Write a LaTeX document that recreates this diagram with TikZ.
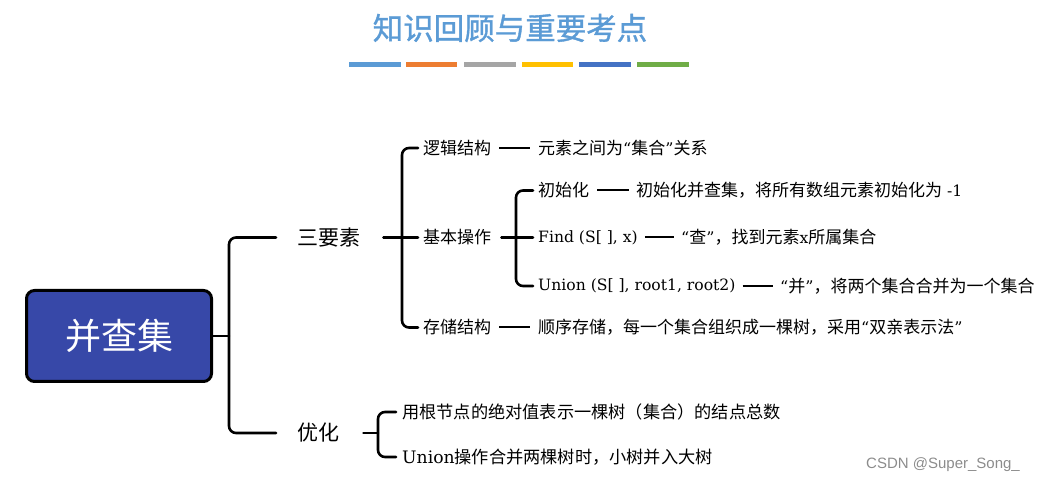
\documentclass[tikz,border=0pt]{standalone}
\usepackage{fontspec}
\setmainfont{DejaVu Serif}
\newfontfamily\cjk{Noto Sans CJK SC}
\newfontfamily\cjktitle[FakeBold=1.2]{Noto Sans CJK SC}
\newfontfamily\latf{DejaVu Serif}
\newfontfamily\wmfont{Liberation Sans}
\newcommand\myoq{{\latf\fontsize{16}{19}\selectfont “}}
\newcommand\mycq{{\latf\fontsize{16}{19}\selectfont ”}}
\newcommand\mylat[1]{{\latf\fontsize{15.6}{19}\selectfont #1}}
\definecolor{titleblue}{HTML}{5B9BD5}
\definecolor{rootblue}{RGB}{55,72,168}
\definecolor{barA}{HTML}{5B9BD5}
\definecolor{barB}{HTML}{ED7D31}
\definecolor{barC}{HTML}{A5A5A5}
\definecolor{barD}{HTML}{FFC000}
\definecolor{barE}{HTML}{4472C4}
\definecolor{barF}{HTML}{70AD47}
\definecolor{wmgray}{HTML}{8C8C8C}
\begin{document}
\begin{tikzpicture}[x=1pt,y=-1pt,
  br/.style={line width=2.6pt, rounded corners=7pt, line cap=round},
  link/.style={line width=2pt},
  lbl/.style={anchor=west, inner sep=0pt, font=\cjk\fontsize{17}{20}\selectfont},
  lat/.style={anchor=west, inner sep=0pt, font=\latf\fontsize{15.6}{19}\selectfont},
  big/.style={anchor=west, inner sep=0pt, font=\cjk\fontsize{21}{25}\selectfont},
  optlbl/.style={anchor=west, inner sep=0pt, font=\cjk\fontsize{17.2}{21}\selectfont},
  bar/.style={line width=5pt}
]
\useasboundingbox (0,0) rectangle (1042,486);
% title
\node[inner sep=0pt, text=titleblue, font=\cjktitle\fontsize{30.5}{34}\selectfont] (title) at (510,28) {知识回顾与重要考点};
\draw[bar, barA] (349,64.5) -- (401,64.5);
\draw[bar, barB] (406,64.5) -- (457,64.5);
\draw[bar, barC] (464,64.5) -- (516,64.5);
\draw[bar, barD] (522,64.5) -- (573,64.5);
\draw[bar, barE] (579,64.5) -- (631,64.5);
\draw[bar, barF] (637,64.5) -- (689,64.5);
% root
\node[draw=black, line width=3pt, fill=rootblue, rounded corners=8pt,
      minimum width=185pt, minimum height=91pt, inner sep=0pt,
      text=white, font=\cjk\fontsize{36}{40}\selectfont] (root) at (119,336) {并查集};
% level 1
\node[big] (sany) at (297,237.5) {三要素};
\node[big] (opt) at (297,433) {优化};
% level 2
\node[lbl] (logic) at (423,148) {逻辑结构};
\node[lbl] (basic) at (423,237.5) {基本操作};
\node[lbl] (store) at (423,327.5) {存储结构};
\node[lbl] (logicd) at (538,148) {元素之间为\myoq 集合\mycq 关系};
\node[lbl] (stored) at (538,327.5) {顺序存储，每一个集合组织成一棵树，采用\myoq 双亲表示法\mycq};
% level 3
\node[lbl] (init) at (538,190.5) {初始化};
\node[lat] (find) at (538,237.5) {Find (S[ ], x)};
\node[lat] (union) at (538,286) {Union (S[ ], root1, root2)};
\node[lbl] (initd) at (636,190.5) {初始化并查集，将所有数组元素初始化为\mylat{ -1}};
\node[lbl] (findd) at (681,237.5) {\myoq 查\mycq ，找到元素\mylat{x}所属集合};
\node[lbl] (uniond) at (780,286) {\myoq 并\mycq ，将两个集合合并为一个集合};
% optimisation
\node[optlbl] (opt1) at (402,412) {用根节点的绝对值表示一棵树（集合）的结点总数};
\node[optlbl] (opt2) at (402,457) {{\latf\fontsize{17.2}{21}\selectfont Union}操作合并两棵树时，小树并入大树};
% watermark
\node[anchor=west, inner sep=0pt, text=wmgray, font=\wmfont\fontsize{15}{18}\selectfont] (wm) at (866,465) {CSDN @Super\_Song\_};
% brackets
\draw[br] (root.east) -- ([xshift=-68pt]sany.west |- root.east);
\draw[br] ([xshift=-21pt]sany.west) -| ([xshift=-68pt]opt.west) -- ([xshift=-21pt]opt.west);
\draw[br] ([xshift=23pt]sany.east) -- ([xshift=-5pt]basic.west);
\draw[br] ([xshift=-5pt]logic.west) -| ([xshift=-21pt]store.west) -- ([xshift=-5pt]store.west);
\draw[br] ([xshift=10pt]basic.east) -- ([xshift=-5pt]find.west);
\draw[br] ([xshift=-5pt]init.west) -| ([xshift=-22pt]union.west) -- ([xshift=-5pt]union.west);
\draw[br] ([xshift=24pt]opt.east) -- ([xshift=-24pt]opt1.west |- opt.east);
\draw[br] ([xshift=-6pt]opt1.west) -| ([xshift=-24pt]opt2.west) -- ([xshift=-6pt]opt2.west);
% links
\draw[link] ([xshift=8pt]logic.east) -- ([xshift=-8pt]logicd.west);
\draw[link] ([xshift=8pt]store.east) -- ([xshift=-8pt]stored.west);
\draw[link] ([xshift=8pt]init.east) -- ([xshift=-7pt]initd.west);
\draw[link] ([xshift=7pt]find.east) -- ([xshift=-7pt]findd.west);
\draw[link] ([xshift=7pt]union.east) -- ([xshift=-7pt]uniond.west);
\end{tikzpicture}
\end{document}
